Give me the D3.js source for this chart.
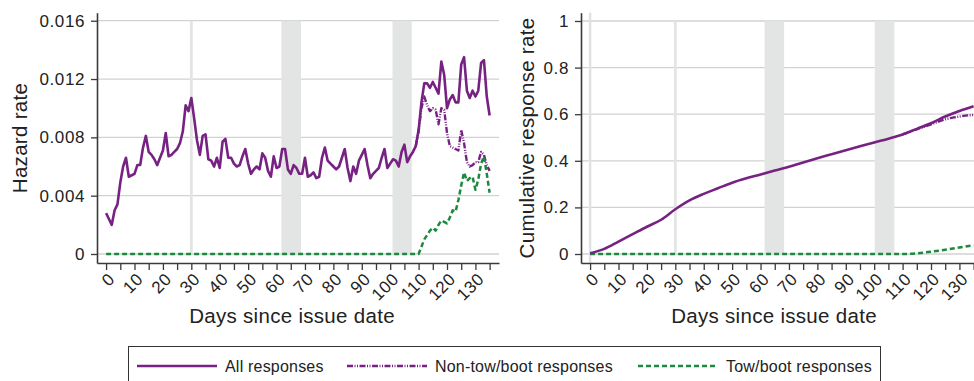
<!DOCTYPE html>
<html>
<head>
<meta charset="utf-8">
<script src="https://cdn.jsdelivr.net/npm/d3@7"></script>
<style>
  body { margin: 0; background: #fff; }
  svg { display: block; font-family: "Liberation Sans", Arial, Helvetica, sans-serif; }
</style>
</head>
<body>
<div id="chart"></div>
<script>
// hazard rate per day, days 0..135
var hazardAll = [
  .0028, .0024, .0020, .0030, .0034, .0049, .0060, .0066, .0053, .0054,
  .0055, .0061, .0061, .0073, .0081, .0070, .0068, .0065, .0061, .0066,
  .0071, .0083, .0067, .0068, .0070, .0072, .0076, .0084, .0102, .0098,
  .0107, .0093, .0078, .0068, .0081, .0082, .0065, .0064, .0060, .0066,
  .0059, .0077, .0079, .0066, .0066, .0062, .0060, .0061, .0067, .0072,
  .0062, .0055, .0058, .0060, .0058, .0069, .0066, .0057, .0053, .0067,
  .0059, .0060, .0072, .0072, .0058, .0055, .0061, .0059, .0055, .0055,
  .0066, .0053, .0054, .0056, .0052, .0053, .0066, .0073, .0064, .0062,
  .0060, .0058, .0060, .0066, .0072, .0059, .0050, .0060, .0055, .0064,
  .0068, .0072, .0061, .0052, .0055, .0057, .0059, .0066, .0072, .0059,
  .0062, .0065, .0064, .0060, .0070, .0075, .0063, .0067, .0070, .0074,
  .0085, .0104, .0117, .0117, .0114, .0118, .0114, .0110, .0132, .0123,
  .0100, .0106, .0109, .0104, .0104, .0130, .0135, .0112, .0107, .0112,
  .0108, .0112, .0131, .0133, .0108, .0095
];
// non-tow/boot only differs from "all" after day 109
var nonTowDays = [109, 110, 111, 112, 113, 114, 115, 116, 117, 118, 119, 120, 121, 122,
                  123, 124, 125, 126, 127, 128, 129, 130, 131, 132, 133, 134, 135];
var hazardNonTow = [.0074, .0084, .0100, .0108, .0102, .0098, .0100, .0099, .0089, .0100,
                    .0099, .0083, .0074, .0073, .0072, .0071, .0085, .0076, .0063, .0060,
                    .0061, .0063, .0063, .0070, .0068, .0061, .0057];
var towDays = [0, 110, 111, 112, 113, 114, 115, 116, 117, 118, 119, 120, 121, 122,
               123, 124, 125, 126, 127, 128, 129, 130, 131, 132, 133, 134, 135];
var hazardTow = [0, 0, .0005, .0010, .0013, .0016, .0018, .0016, .0020, .0023,
                 .0022, .0021, .0025, .0030, .0029, .0037, .0047, .0056, .0050, .0052,
                 .0053, .0044, .0051, .0062, .0067, .0055, .0042];

// cumulative response rate, read every 5 days
var cumDays = [0, 5, 10, 15, 20, 25, 30, 35, 40, 45, 50, 55, 60, 65, 70,
               75, 80, 85, 90, 95, 100, 105, 110, 115, 120, 125, 130, 135];
var cumAll = [.003, .022, .053, .085, .117, .147, .192, .230, .258, .282, .306, .325, .341, .358, .374,
              .393, .411, .428, .445, .462, .479, .495, .513, .537, .561, .590, .614, .634];
var cumNonTowDays = [110, 115, 120, 125, 130, 135];
var cumNonTow = [.513, .535, .556, .578, .590, .597];
var cumTowDays = [0, 110, 115, 120, 125, 130, 135];
var cumTow = [0, 0, .003, .010, .018, .028, .038];

// shaded periods (days)
var bandsLeft = [[29.5, 30.5], [61.7, 68.6], [100.8, 107.6]];
var bandsRight = [[29.5, 30.5], [61.4, 68.3], [100.2, 107.1]];

var hazardTicks = [0, 0.004, 0.008, 0.012, 0.016];
var cumTicks = [0, 0.2, 0.4, 0.6, 0.8, 1];
var dayTicks = [0, 5, 10, 15, 20, 25, 30, 35, 40, 45, 50, 55, 60, 65,
                70, 75, 80, 85, 90, 95, 100, 105, 110, 115, 120, 125, 130, 135];

var legendItems = ['All responses', 'Non-tow/boot responses', 'Tow/boot responses'];

var purple = '#772282';
var green = '#1b8a3e';
var axisColor = '#3a3a3a';
var textColor = '#222';

var width = 974, height = 381;
var yTop = 12.7, yBot = 263;

var svg = d3.select('#chart').append('svg')
    .attr('width', width)
    .attr('height', height);

svg.append('rect')
    .attr('width', width)
    .attr('height', height)
    .attr('fill', '#fff');

function pts(xs, ys){
    return xs.map(function(d, i){ return [d, ys[i]]; });
}

function drawPanel(opt){
    var x = d3.scaleLinear().domain([-3.2, 138.3]).range([opt.left, opt.left + 402]);
    var y = d3.scaleLinear().domain(opt.yDomain).range([yBot, yTop]);
    var g = svg.append('g');

    // gridlines
    g.selectAll('.grid').data(opt.yTicks).enter().append('line')
        .attr('x1', opt.left)
        .attr('x2', opt.left + 402)
        .attr('y1', function(d){ return y(d); })
        .attr('y2', function(d){ return y(d); })
        .attr('stroke', '#d2d2d2')
        .attr('stroke-width', 1.3);

    // shaded periods
    g.selectAll('.band').data(opt.bands).enter().append('rect')
        .attr('x', function(d){ return x(d[0]); })
        .attr('width', function(d){ return x(d[1]) - x(d[0]); })
        .attr('y', y(opt.yTicks[opt.yTicks.length - 1]))
        .attr('height', y(0) - y(opt.yTicks[opt.yTicks.length - 1]))
        .attr('fill', '#e3e5e5');

    if(opt.zeroLine){
        g.append('line')
            .attr('x1', x(0)).attr('x2', x(0))
            .attr('y1', yTop).attr('y2', yBot)
            .attr('stroke', '#e0e2e2')
            .attr('stroke-width', 2.5);
    }

    // AXES
    var yAxis = g.append('g')
        .attr('transform', 'translate(' + opt.left + ',0)')
        .call(d3.axisLeft(y).tickValues(opt.yTicks).tickFormat(opt.yFormat).tickSize(6).tickSizeOuter(0).tickPadding(6));
    var xAxis = g.append('g')
        .attr('transform', 'translate(0,' + yBot + ')')
        .call(d3.axisBottom(x).tickValues(dayTicks)
            .tickFormat(function(d){ return d % 10 === 0 ? d : ''; })
            .tickSize(7).tickSizeOuter(0));

    [yAxis, xAxis].forEach(function(a){
        a.select('.domain').attr('stroke', axisColor).attr('stroke-width', 1.6);
        a.selectAll('.tick line').attr('stroke', axisColor).attr('stroke-width', 1.3);
        a.selectAll('text')
            .attr('fill', textColor)
            .style('font-size', '17px')
            .style('letter-spacing', '0.6px')
            .style('font-family', '"Liberation Sans", Arial, sans-serif');
    });
    xAxis.selectAll('text')
        .attr('x', 0).attr('y', 0).attr('dy', '.35em')
        .attr('transform', 'translate(5,13) rotate(-45)')
        .style('text-anchor', 'end');

    // LINES
    var line = d3.line()
        .x(function(d){ return x(d[0]); })
        .y(function(d){ return y(d[1]); })
        .curve(opt.curve);

    opt.series.forEach(function(s){
        g.append('path')
            .datum(s.data)
            .attr('d', line)
            .attr('fill', 'none')
            .attr('stroke', s.color)
            .attr('stroke-width', s.width)
            .attr('stroke-dasharray', s.dash)
            .attr('stroke-linejoin', 'round');
    });

    // titles
    svg.append('text')
        .attr('transform', 'translate(' + opt.titleX + ',138) rotate(-90)')
        .attr('text-anchor', 'middle')
        .attr('fill', textColor)
        .style('font-size', '20.5px')
        .style('letter-spacing', '0.3px')
        .text(opt.yTitle);
    svg.append('text')
        .attr('x', opt.xTitleX)
        .attr('y', 323)
        .attr('text-anchor', 'middle')
        .attr('fill', textColor)
        .style('font-size', '20.5px')
        .style('letter-spacing', '0.3px')
        .text('Days since issue date');
}

var nonTowDash = '6,1.5,1,1.5,1,1.5';

drawPanel({
    left: 97,
    yDomain: [-0.000617, 0.01655],
    yTicks: hazardTicks,
    yFormat: function(d){ return d === 0 ? '0' : d3.format('.3f')(d); },
    bands: bandsLeft,
    zeroLine: false,
    curve: d3.curveLinear,
    yTitle: 'Hazard rate',
    titleX: 27,
    xTitleX: 292,
    series: [
        {data: pts(nonTowDays, hazardNonTow), color: purple, width: 2.4, dash: nonTowDash},
        {data: pts(towDays, hazardTow), color: green, width: 2.5, dash: '5,3'},
        {data: hazardAll.map(function(v, i){ return [i, v]; }), color: purple, width: 2.6, dash: null}
    ]
});

drawPanel({
    left: 581,
    yDomain: [-0.0386, 1.0356],
    yTicks: cumTicks,
    yFormat: function(d){ return String(d); },
    bands: bandsRight,
    zeroLine: true,
    curve: d3.curveMonotoneX,
    yTitle: 'Cumulative response rate',
    titleX: 534,
    xTitleX: 774,
    series: [
        {data: pts(cumNonTowDays, cumNonTow), color: purple, width: 2.4, dash: nonTowDash},
        {data: pts(cumTowDays, cumTow), color: green, width: 2.5, dash: '5,3'},
        {data: pts(cumDays, cumAll), color: purple, width: 2.6, dash: null}
    ]
});

// LEGEND
svg.append('rect')
    .attr('x', 128.5)
    .attr('y', 346.5)
    .attr('width', 752)
    .attr('height', 50)
    .attr('fill', 'none')
    .attr('stroke', '#333')
    .attr('stroke-width', 1);

var legendStyles = [
    {x: 137, color: purple, dash: null},
    {x: 347, color: purple, dash: nonTowDash},
    {x: 638, color: green, dash: '5,3'}
];
legendItems.forEach(function(name, i){
    var st = legendStyles[i];
    svg.append('line')
        .attr('x1', st.x).attr('x2', st.x + 80)
        .attr('y1', 366).attr('y2', 366)
        .attr('stroke', st.color)
        .attr('stroke-width', 2.4)
        .attr('stroke-dasharray', st.dash);
    svg.append('text')
        .attr('x', st.x + 88)
        .attr('y', 371.5)
        .attr('fill', textColor)
        .style('font-size', '16px')
        .style('letter-spacing', '0.2px')
        .text(name);
});
</script>
</body>
</html>
